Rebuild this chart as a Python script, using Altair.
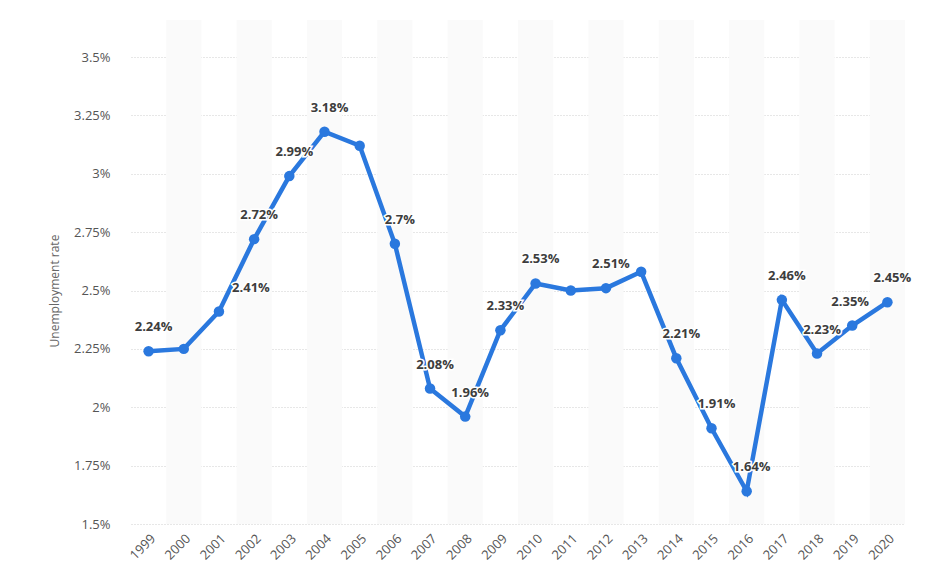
import altair as alt
import pandas as pd

years = list(range(1999, 2021))
rates = [2.24, 2.25, 2.41, 2.72, 2.99, 3.18, 3.12, 2.70, 2.08, 1.96, 2.33,
         2.53, 2.50, 2.51, 2.58, 2.21, 1.91, 1.64, 2.46, 2.23, 2.35, 2.45]
labels = ["2.24%", "", "2.41%", "2.72%", "2.99%", "3.18%", "", "2.7%", "2.08%",
          "1.96%", "2.33%", "2.53%", "", "2.51%", "", "2.21%", "1.91%", "1.64%",
          "2.46%", "2.23%", "2.35%", "2.45%"]
y_ticks = [1.5, 1.75, 2.0, 2.25, 2.5, 2.75, 3.0, 3.25, 3.5]

df = pd.DataFrame({"year": years, "rate": rates, "label": labels})

W, H = 774, 467
FONT = "Open Sans"
BLUE = "#2a78de"

x_scale = alt.Scale(domain=[1998.5, 2020.5], nice=False, zero=False)
y_scale = alt.Scale(domain=[1.5, 3.5], nice=False, zero=False)

x_axis = alt.Axis(values=years, format="d", labelAngle=-45, grid=False, domain=False,
                  ticks=False, labelFont=FONT, labelFontSize=13, labelColor="#555",
                  labelPadding=8, title=None, labelOverlap=False, labelFlush=False)
y_axis = alt.Axis(values=y_ticks, labelExpr="datum.value + '%'", grid=True,
                  gridColor="#cfcfcf", gridDash=[1, 2], gridWidth=1, domain=False,
                  ticks=False, labelFont=FONT, labelFontSize=13, labelColor="#555",
                  labelPadding=21, title="Unemployment rate", titleFont=FONT,
                  titleFontSize=12, titleFontWeight="normal", titleColor="#666",
                  titlePadding=12, labelOverlap=False)

base = alt.Chart(df)

bands = base.transform_filter("datum.year % 2 == 0").transform_calculate(
    x0="datum.year - 0.5", x1="datum.year + 0.5"
).mark_rect(color="#fafafa").encode(
    x=alt.X("x0:Q", scale=x_scale, axis=x_axis),
    x2="x1:Q",
    y=alt.value(-37),
    y2=alt.value(H),
)

grid_layer = base.mark_point(opacity=0).encode(
    x=alt.X("year:Q", scale=x_scale, axis=x_axis),
    y=alt.Y("rate:Q", scale=y_scale, axis=y_axis),
)

line = base.mark_line(color=BLUE, strokeWidth=4.5).encode(
    x=alt.X("year:Q", scale=x_scale, axis=x_axis),
    y=alt.Y("rate:Q", scale=y_scale, axis=y_axis),
)
points = base.mark_circle(color=BLUE, size=110, opacity=1).encode(
    x=alt.X("year:Q", scale=x_scale, axis=x_axis),
    y=alt.Y("rate:Q", scale=y_scale, axis=y_axis),
)

def text_layer(filter_expr, dx):
    src = base.transform_filter(filter_expr)
    halo = src.mark_text(font=FONT, fontSize=13, fontWeight="bold", dx=dx, dy=-24,
                         stroke="white", strokeWidth=3, color="white").encode(
        x=alt.X("year:Q", scale=x_scale, axis=x_axis),
        y=alt.Y("rate:Q", scale=y_scale, axis=y_axis),
        text="label:N",
    )
    txt = src.mark_text(font=FONT, fontSize=13, fontWeight="bold", dx=dx, dy=-24,
                        color="#3d3d3d").encode(
        x=alt.X("year:Q", scale=x_scale, axis=x_axis),
        y=alt.Y("rate:Q", scale=y_scale, axis=y_axis),
        text="label:N",
    )
    return [halo, txt]

t_main = text_layer("datum.label != '' && datum.year != 2001 && datum.year != 2019", 5)
t_2001 = text_layer("datum.year == 2001", 32)
t_2019 = text_layer("datum.year == 2019", -2)

chart = alt.layer(bands, grid_layer, line, points, *t_main, *t_2001, *t_2019).properties(
    width=W, height=H,
    autosize=alt.AutoSizeParams(type="none"),
    padding={"left": 131, "top": 57, "right": 28, "bottom": 61},
    background="white",
).configure_view(stroke=None).configure_axis(labelOverlap=False)

chart.save("out.html", embed_options={"renderer": "svg", "actions": False})
